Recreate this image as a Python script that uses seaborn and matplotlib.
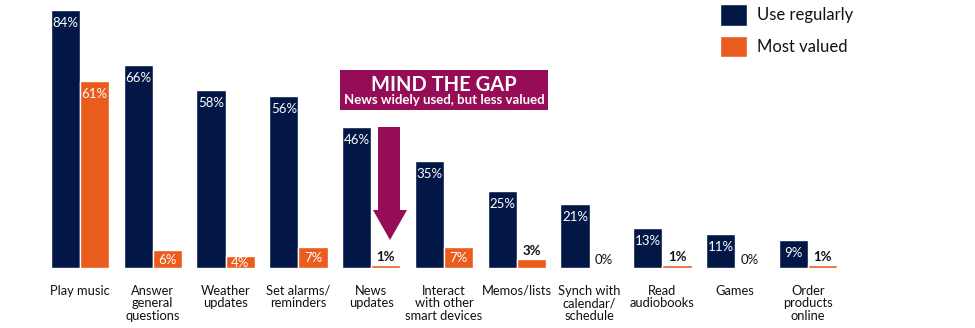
import matplotlib
matplotlib.use("Agg")
import matplotlib.pyplot as plt
import seaborn as sns
import pandas as pd
from matplotlib.patches import Polygon, Rectangle

categories = [
    "Play music", "Answer\ngeneral\nquestions", "Weather\nupdates",
    "Set alarms/\nreminders", "News\nupdates", "Interact\nwith other\nsmart devices",
    "Memos/lists", "Synch with\ncalendar/\nschedule", "Read\naudiobooks",
    "Games", "Order\nproducts\nonline",
]
use_regularly = [84, 66, 58, 56, 46, 35, 25, 21, 13, 11, 9]
most_valued = [61, 6, 4, 7, 1, 7, 3, 0, 1, 0, 1]
series = ["Use regularly", "Most valued"]

NAVY = "#021745"
ORANGE = "#e95c1d"
MAROON = "#960c56"
PX_PER_UNIT = 3.07  # vertical pixels per percentage point

df = pd.DataFrame({
    "category": categories * 2,
    "value": use_regularly + most_valued,
    "series": [series[0]] * len(categories) + [series[1]] * len(categories),
})

sns.set_theme(style="white")
plt.rcParams["font.family"] = ["Lato", "DejaVu Sans"]

fig = plt.figure(figsize=(9.75, 3.28), dpi=100)
ax = fig.add_axes([0, 60 / 328, 1, 268 / 328])

sns.barplot(data=df, x="category", y="value", hue="series", hue_order=series,
            order=categories, palette=[NAVY, ORANGE], width=0.8, saturation=1,
            ax=ax, legend=True)

ax.set_xlim(-80 / 72.8, 10 + 167 / 72.8)
ax.set_ylim(0, 268 / PX_PER_UNIT)
for s in ax.spines.values():
    s.set_visible(False)
ax.set_yticks([])
ax.set_xlabel("")
ax.set_ylabel("")
ax.tick_params(axis="x", length=0, pad=12, labelsize=9.3, colors="#111111")
for t in ax.get_xticklabels():
    t.set_linespacing(1.05)


def inside_offset(v):
    # centre of the label below the bar top, in points; capped for tall bars
    px = min(13.0, v * PX_PER_UNIT / 2 + 1)
    return -px * 0.72


# value labels
navy_bars, orange_bars = ax.containers[0], ax.containers[1]
for bar, v in zip(navy_bars, use_regularly):
    ax.annotate(f"{v}%", (bar.get_x() + bar.get_width() / 2, v),
                xytext=(0, inside_offset(v)), textcoords="offset points",
                ha="center", va="center", color="white", fontsize=9.5)
for bar, v in zip(orange_bars, most_valued):
    x = bar.get_x() + bar.get_width() / 2
    if v >= 4:
        ax.annotate(f"{v}%", (x, v), xytext=(0, inside_offset(v)),
                    textcoords="offset points", ha="center", va="center",
                    color="white", fontsize=9.5)
    else:
        ax.annotate(f"{v}%", (x, v), xytext=(0, 1.5), textcoords="offset points",
                    ha="center", va="bottom", color="#111111", fontsize=9.5,
                    fontweight="bold" if v > 0 else "normal")

# legend
handles, labels = ax.get_legend_handles_labels()
ax.legend(handles, labels, loc="upper left", bbox_to_anchor=(716 / 975, 1.0),
          bbox_transform=fig.transFigure, frameon=False, fontsize=12,
          handlelength=1.6, handleheight=1.6, handletextpad=0.6,
          labelspacing=0.6, borderaxespad=0.05, borderpad=0.2,
          labelcolor="#111111")

# "Mind the gap" callout box
fig.patches.append(Rectangle((340 / 975, 1 - 110 / 328), 208 / 975, 40 / 328,
                             transform=fig.transFigure, facecolor=MAROON,
                             edgecolor="none"))
fig.text(444 / 975, 1 - 91 / 328, "MIND THE GAP", ha="center", va="baseline",
         color="white", fontsize=14.5, fontweight="bold")
fig.text(444 / 975, 1 - 104.5 / 328, "News widely used, but less valued",
         ha="center", va="baseline", color="white", fontsize=9.5, fontweight="bold")


def fp(px, py):
    return (px / 975, 1 - py / 328)


# downward arrow pointing at the news "most valued" bar
arrow_pts = [fp(378, 127), fp(400, 127), fp(400, 210), fp(407, 210),
             fp(390, 240), fp(373, 210), fp(378, 210)]
fig.patches.append(Polygon(arrow_pts, closed=True, transform=fig.transFigure,
                           facecolor=MAROON, edgecolor="none"))

fig.savefig("out.png", dpi=100)
